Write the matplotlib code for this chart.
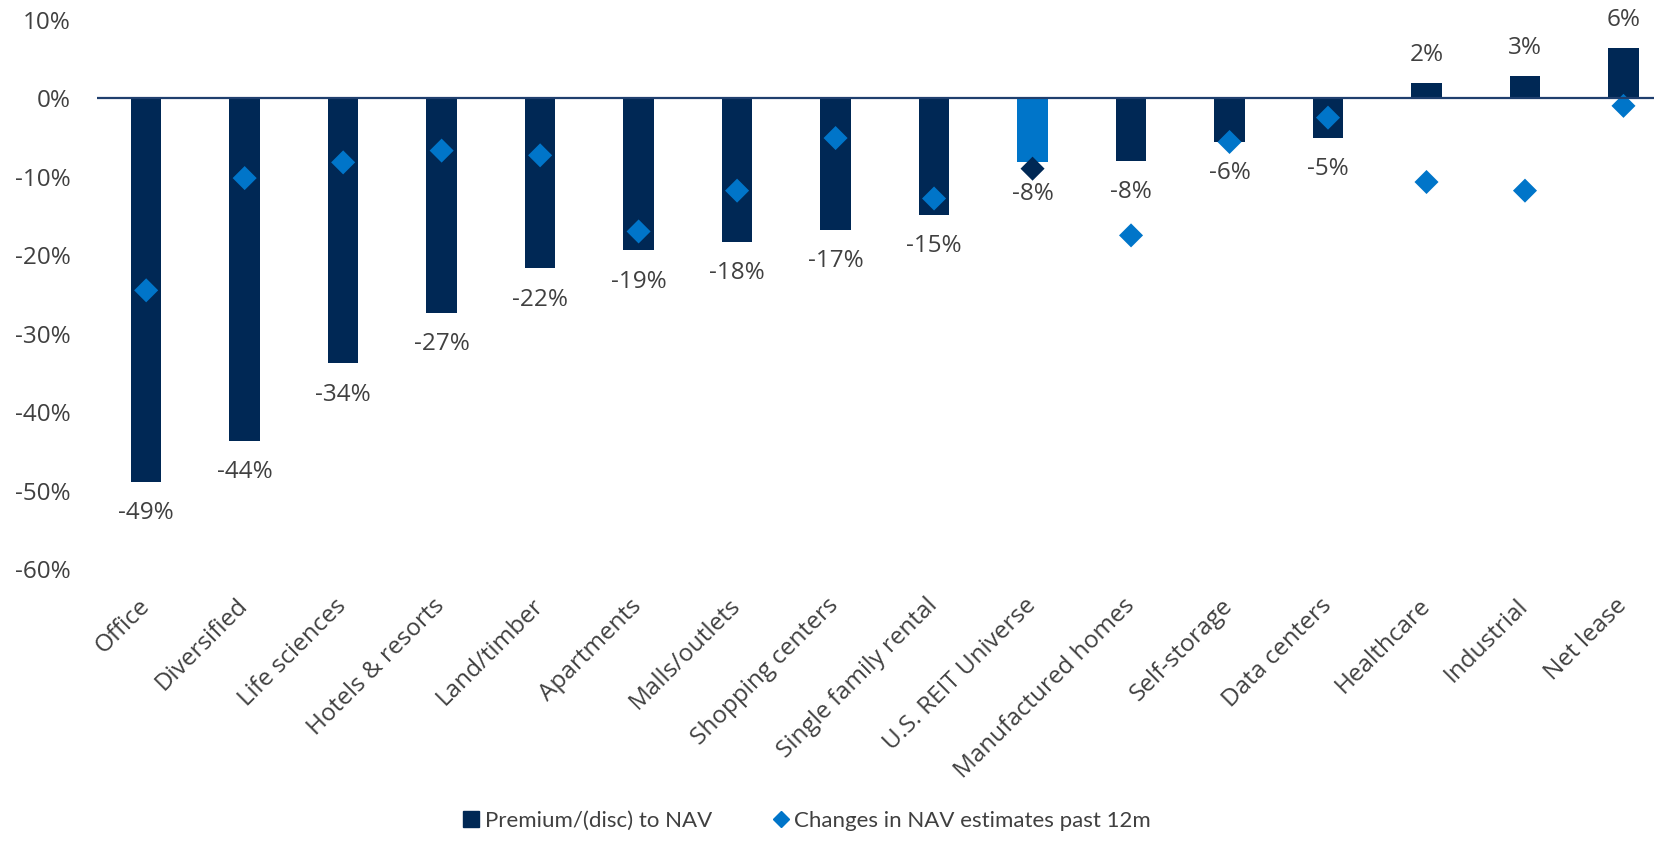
"""REIT premium/(discount) to NAV by sector, with 12m change in NAV estimates."""

import matplotlib

matplotlib.use("Agg")
import matplotlib.pyplot as plt
from matplotlib.lines import Line2D

NAVY = "#002855"
BLUE = "#0075C9"
TEXT = "#404040"

sectors = [
    "Office", "Diversified", "Life sciences", "Hotels & resorts", "Land/timber",
    "Apartments", "Malls/outlets", "Shopping centers", "Single family rental",
    "U.S. REIT Universe", "Manufactured homes", "Self-storage", "Data centers",
    "Healthcare", "Industrial", "Net lease",
]
premium = [-48.9, -43.7, -33.8, -27.4, -21.7, -19.4, -18.3, -16.8, -14.9,
           -8.2, -8.0, -5.6, -5.1, 1.9, 2.8, 6.4]
nav_change = [-24.5, -10.2, -8.2, -6.7, -7.3, -17.0, -11.8, -5.1, -12.8,
              -9.0, -17.5, -5.6, -2.5, -10.7, -11.8, -1.0]
highlight = "U.S. REIT Universe"

plt.rcParams["font.family"] = ["Open Sans", "DejaVu Sans"]

fig = plt.figure(figsize=(16.54, 8.41), dpi=100)
ax = fig.add_axes([0.0586, 0.3234, 1 - 0.0586, 0.6534])

x = list(range(len(sectors)))
bar_colors = [BLUE if s == highlight else NAVY for s in sectors]
dot_colors = [NAVY if s == highlight else BLUE for s in sectors]

ax.bar(x, premium, width=0.31, color=bar_colors, zorder=2)
ax.scatter(x, nav_change, marker="D", s=150, c=dot_colors, linewidths=0, zorder=3)
ax.axhline(0, color="#1F3F6E", lw=1.6, zorder=4)

for i, v in enumerate(premium):
    off = 20 if v >= 0 else -22.5
    ax.annotate(f"{round(v):.0f}%", (i, v), xytext=(0, off), textcoords="offset points",
                ha="center", va="center", fontsize=17.5, color=TEXT)

ax.set_xlim(-0.5, 15.31)
ax.set_ylim(-60, 10)
ax.set_yticks(range(-60, 11, 10))
ax.set_yticklabels([f"{t}%" for t in range(-60, 11, 10)], fontsize=17.5, color=TEXT)
ax.set_xticks(x)
ax.set_xticklabels(sectors, rotation=45, ha="right", va="center",
                   rotation_mode="anchor", fontsize=17.5, color=TEXT)
ax.tick_params(axis="y", length=0, pad=19)
ax.tick_params(axis="x", length=0, pad=24)
for sp in ax.spines.values():
    sp.set_visible(False)

handles = [
    Line2D([], [], marker="s", ls="none", color=NAVY, markersize=12),
    Line2D([], [], marker="D", ls="none", color=BLUE, markersize=8.5),
]
fig.legend(handles, ["Premium/(disc) to NAV", "Changes in NAV estimates past 12m"],
           loc="center", bbox_to_anchor=(0.487, 0.024), ncol=2, frameon=False,
           prop={"family": ["Lato", "DejaVu Sans"], "size": 16}, labelcolor=TEXT,
           handletextpad=0.1, columnspacing=2.6, handlelength=1.0)

fig.savefig("out.png", dpi=100)
